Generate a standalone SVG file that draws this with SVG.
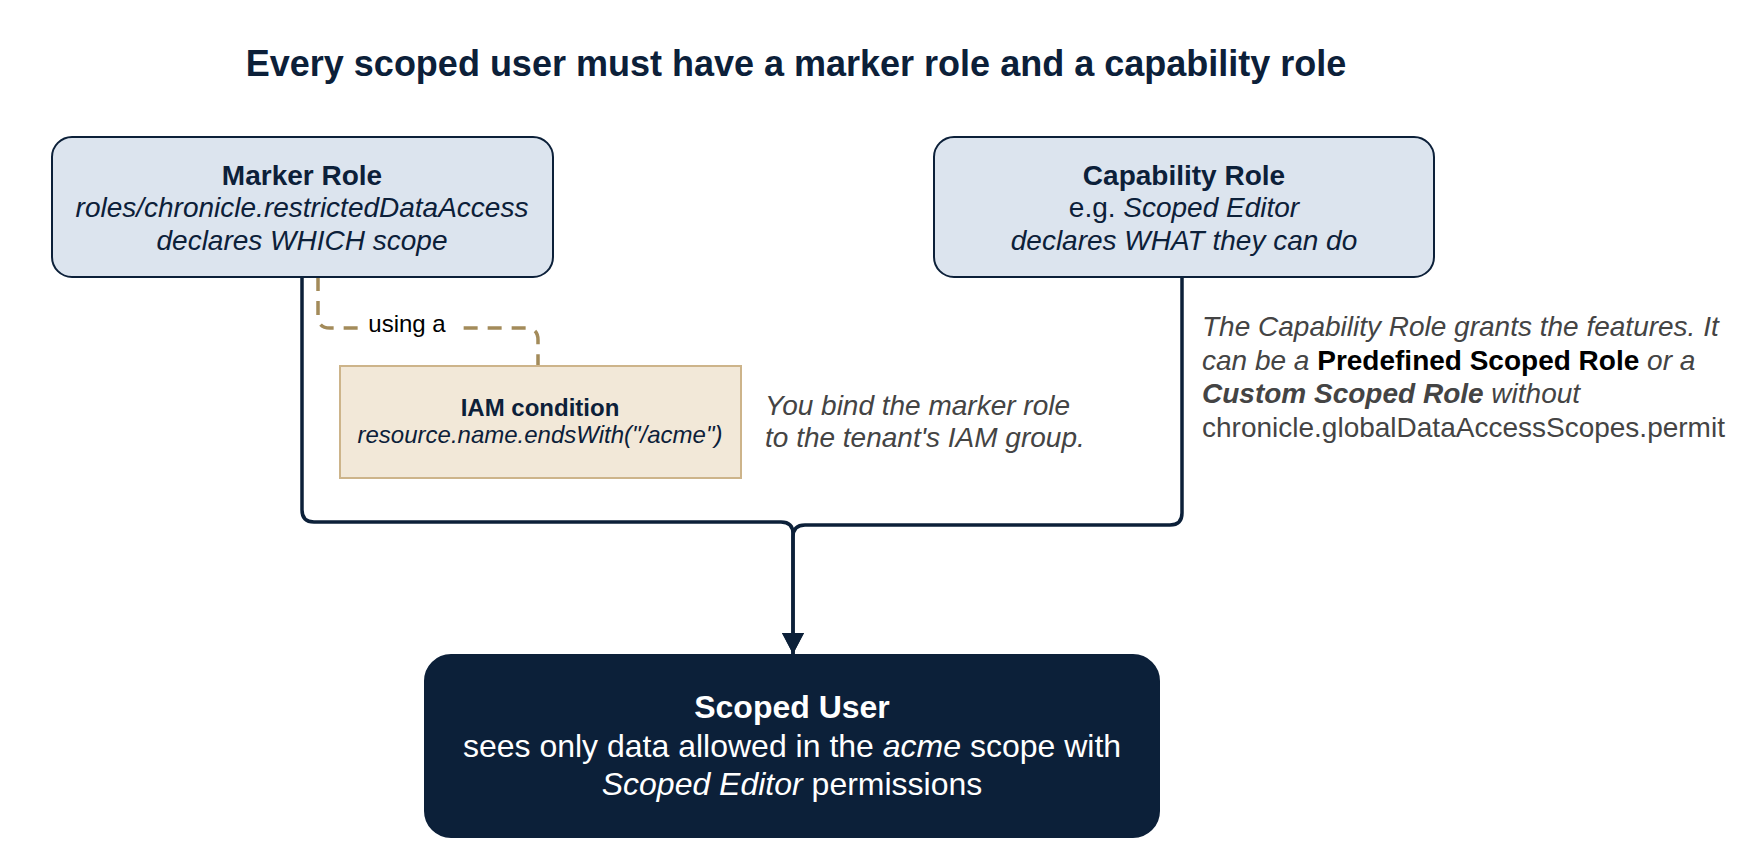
<svg xmlns="http://www.w3.org/2000/svg" width="1748" height="855" viewBox="0 0 1748 855">
<defs>
<style>
text{font-family:"Liberation Sans",Arial,Helvetica,sans-serif}
.t{font-size:28px;fill:#0C2039;text-anchor:middle}
.b{font-weight:bold}
.i{font-style:italic}
.role{fill:#DCE4EE;stroke:#0C2039;stroke-width:2}
.conn{fill:none;stroke:#0C2039;stroke-width:3.5}
.note{font-size:28px;fill:#444}
</style>
<marker id="arr" markerUnits="userSpaceOnUse" markerWidth="22" markerHeight="22" viewBox="0 0 22 22" refX="21" refY="11" orient="auto">
<path d="M0,0 L21,11 L0,22 Z" fill="#0C2039"/>
</marker>
</defs>
<rect width="1748" height="855" fill="#fff"/>
<text x="796" y="76" font-size="36" font-weight="bold" fill="#0C2039" text-anchor="middle">Every scoped user must have a marker role and a capability role</text>

<g id="connectors">
<path class="conn" d="M302,277 V510 Q302,522 314,522 H781 Q793,522 793,534 V654" marker-end="url(#arr)"/>
<path class="conn" d="M1182,277 V513 Q1182,525 1170,525 H805 Q793,525 793,537 V654" marker-end="url(#arr)"/>
<path d="M318,277 V316 Q318,328 330,328 H526 Q538,328 538,340 V366" fill="none" stroke="#A38B5A" stroke-width="3.5" stroke-dasharray="14 10"/>
<rect x="362" y="310" width="92" height="34" fill="#fff"/>
<text x="407" y="332" font-size="24" fill="#000" text-anchor="middle">using a</text>
</g>

<g id="marker-role">
<rect class="role" x="52" y="137" width="501" height="140" rx="20"/>
<text class="t b" x="302" y="185">Marker Role</text>
<text class="t i" x="302" y="217">roles/chronicle.restrictedDataAccess</text>
<text class="t i" x="302" y="250">declares WHICH scope</text>
</g>

<g id="capability-role">
<rect class="role" x="934" y="137" width="500" height="140" rx="20"/>
<text class="t b" x="1184" y="185">Capability Role</text>
<text class="t" x="1184" y="217">e.g. <tspan class="i">Scoped Editor</tspan></text>
<text class="t i" x="1184" y="250">declares WHAT they can do</text>
</g>

<g id="iam-condition">
<rect x="340" y="366" width="401" height="112" fill="#F2E8D8" stroke="#CDB48A" stroke-width="2"/>
<text x="540" y="416" font-size="24" font-weight="bold" fill="#0C2039" text-anchor="middle">IAM condition</text>
<text x="540" y="443" font-size="24" font-style="italic" fill="#0C2039" text-anchor="middle">resource.name.endsWith("/acme")</text>
</g>

<g id="bind-note">
<text class="note i" x="765" y="415">You bind the marker role</text>
<text class="note i" x="765" y="447">to the tenant's IAM group.</text>
</g>

<g id="capability-note">
<text class="note i" x="1202" y="336">The Capability Role grants the features. It</text>
<text class="note" x="1202" y="370"><tspan class="i">can be a </tspan><tspan class="b" fill="#000">Predefined Scoped Role</tspan><tspan class="i"> or a</tspan></text>
<text class="note" x="1202" y="403"><tspan class="b i">Custom Scoped Role</tspan><tspan class="i"> without</tspan></text>
<text class="note" x="1202" y="437">chronicle.globalDataAccessScopes.permit</text>
</g>

<g id="scoped-user">
<rect x="425" y="655" width="734" height="182" rx="26" fill="#0C2039" stroke="#0C2039" stroke-width="2"/>
<text x="792" y="718" font-size="32" font-weight="bold" fill="#fff" text-anchor="middle">Scoped User</text>
<text x="792" y="757" font-size="32" fill="#fff" text-anchor="middle">sees only data allowed in the <tspan font-style="italic">acme</tspan> scope with</text>
<text x="792" y="795" font-size="32" fill="#fff" text-anchor="middle"><tspan font-style="italic">Scoped Editor</tspan> permissions</text>
</g>
</svg>
